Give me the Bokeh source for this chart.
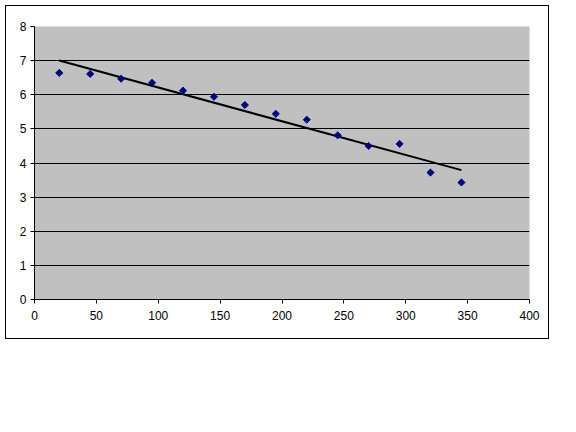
import numpy as np
from bokeh.plotting import figure
from bokeh.models import Range1d, FixedTicker
from bokeh.embed import file_html
from bokeh.resources import INLINE

x_vals = [20, 45, 70, 95, 120, 145, 170, 195, 220, 245, 270, 295, 320, 345]
y_vals = [6.64, 6.61, 6.47, 6.35, 6.12, 5.94, 5.70, 5.44, 5.27, 4.81, 4.50, 4.56, 3.72, 3.43]
x_ticks = [0, 50, 100, 150, 200, 250, 300, 350, 400]
y_ticks = [0, 1, 2, 3, 4, 5, 6, 7, 8]

p = figure(width=544, height=334, output_backend="svg", toolbar_location=None,
           x_range=Range1d(0, 400), y_range=Range1d(0, 8),
           min_border_left=28, min_border_top=20, min_border_right=21, min_border_bottom=41,
           margin=(5, 0, 0, 5))
p.styles = {"border": "1px solid black"}
p.background_fill_color = "#C0C0C0"
p.border_fill_color = "white"
p.outline_line_color = None

# trend line (least-squares fit of the data)
m, b = np.polyfit(x_vals, y_vals, 1)
tx = [min(x_vals), max(x_vals)]
p.line(tx, [m * t + b for t in tx], line_color="black", line_width=2)

p.scatter(x_vals, y_vals, marker="square", angle=np.pi / 4, size=5,
          fill_color="#000080", line_color="#000080")

for ax, ticks in ((p.xaxis, x_ticks), (p.yaxis, y_ticks)):
    ax.ticker = FixedTicker(ticks=ticks)
    ax.axis_line_color = "black"
    ax.major_tick_line_color = "black"
    ax.major_tick_out = 4
    ax.major_tick_in = 0
    ax.minor_tick_line_color = None
    ax.major_label_text_font = "Liberation Sans"
    ax.major_label_text_font_size = "12px"
    ax.major_label_text_color = "black"
p.xaxis.major_label_standoff = 7
p.yaxis.major_label_standoff = 4

p.xgrid.visible = False
p.ygrid.ticker = FixedTicker(ticks=[1, 2, 3, 4, 5, 6, 7])
p.ygrid.grid_line_color = "black"
p.ygrid.grid_line_width = 1

open("out.html", "w").write(file_html(p, INLINE))
